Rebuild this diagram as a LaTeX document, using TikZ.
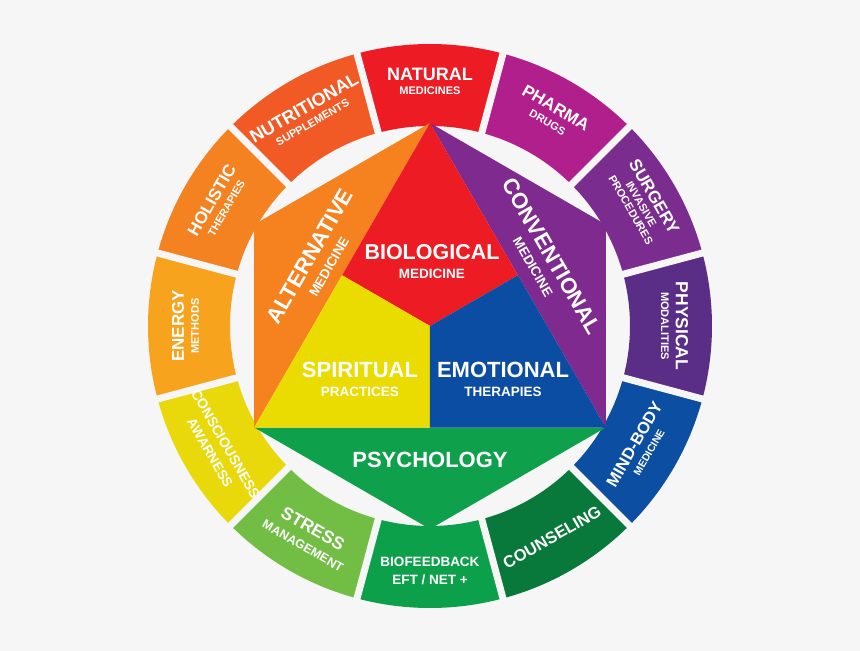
\documentclass[tikz,border=0pt]{standalone}
\usepackage{fontspec}
\setmainfont{Liberation Sans}
\usetikzlibrary{calc}
\definecolor{bgc}{HTML}{F6F6F6}
\definecolor{cNat}{HTML}{ED1C24}
\definecolor{cPha}{HTML}{B01F8C}
\definecolor{cSur}{HTML}{7B2C8F}
\definecolor{cPhy}{HTML}{5A2D87}
\definecolor{cMin}{HTML}{0B4EA2}
\definecolor{cCou}{HTML}{08793A}
\definecolor{cBio}{HTML}{0DA04A}
\definecolor{cStr}{HTML}{72BE44}
\definecolor{cCon}{HTML}{E9D90A}
\definecolor{cEne}{HTML}{F7A31E}
\definecolor{cHol}{HTML}{F58220}
\definecolor{cNut}{HTML}{F15A24}
\definecolor{cAlt}{HTML}{F5821F}
\definecolor{cBiol}{HTML}{ED1C24}
\definecolor{cConv}{HTML}{7E2A8E}
\definecolor{cSpi}{HTML}{EADC00}
\definecolor{cEmo}{HTML}{0B4DA2}
\definecolor{cPsy}{HTML}{0EA04A}
\tikzset{
  lab/.style={text=white, inner sep=0pt, anchor=center},
  gap/.style={bgc, line width=7pt}
}
\newcommand\fsz[1]{\fontsize{#1}{#1}\selectfont\bfseries}
\newcommand\shtext[4]{%
  \node[lab, font=\fsz{#2}] (#1) at #3 {#4};}
\begin{document}
\begin{tikzpicture}[x=1pt,y=1pt]
\fill[bgc] (-430,-325) rectangle (430,326);
\useasboundingbox (-430,-325) rectangle (430,326);
% ring segments
\foreach \a/\c in {90/cNat,60/cPha,30/cSur,0/cPhy,-30/cMin,-60/cCou,-90/cBio,-120/cStr,-150/cCon,180/cEne,150/cHol,120/cNut}{
  \fill[\c] (\a-15:200) arc[start angle=\a-15, end angle=\a+15, radius=200pt]
    -- (\a+15:282) arc[start angle=\a+15, end angle=\a-15, radius=282pt] -- cycle;
}
\foreach \b in {15,45,...,345}{
  \draw[gap] (\b:195) -- (\b:290);
}
% hexagon
\coordinate (A) at (90:203);
\coordinate (B) at (150:203);
\coordinate (C) at (210:203);
\coordinate (D) at (270:203);
\coordinate (E) at (330:203);
\coordinate (F) at (30:203);
\coordinate (O) at (0,0);
\coordinate (mAC) at ($(A)!0.5!(C)$);
\coordinate (mAE) at ($(A)!0.5!(E)$);
\coordinate (mCE) at ($(C)!0.5!(E)$);
\fill[cAlt] (A) -- (B) -- (C) -- cycle;
\fill[cConv] (A) -- (F) -- (E) -- cycle;
\fill[cPsy] (C) -- (D) -- (E) -- cycle;
\fill[cBiol] (A) -- (mAC) -- (O) -- (mAE) -- cycle;
\fill[cSpi] (mAC) -- (C) -- (mCE) -- (O) -- cycle;
\fill[cEmo] (mAE) -- (O) -- (mCE) -- (E) -- cycle;
% center labels
\shtext{biol}{21.5}{(2,74)}{BIOLOGICAL}
\shtext{biolb}{13.5}{(2,52)}{MEDICINE}
\shtext{spi}{22}{(-70,-44)}{SPIRITUAL}
\shtext{spib}{13.5}{(-70,-66)}{PRACTICES}
\shtext{emo}{22}{(73,-44)}{EMOTIONAL}
\shtext{emob}{13.5}{(73,-66)}{THERAPIES}
\shtext{psy}{22}{(0,-134)}{PSYCHOLOGY}
\begin{scope}[shift={(-120,70)}, rotate=60, transform shape]
  \shtext{alt}{22}{(0,0)}{ALTERNATIVE}
  \shtext{altb}{13.5}{(0,-22)}{MEDICINE}
\end{scope}
\begin{scope}[shift={(122,70)}, rotate=-60, transform shape]
  \shtext{conv}{22}{(0,0)}{CONVENTIONAL}
  \shtext{convb}{13.5}{(0,-22)}{MEDICINE}
\end{scope}
% ring labels
\begin{scope}[shift={(90:244)}, rotate=0, transform shape]
  \shtext{nat}{18}{(0,8)}{NATURAL}
  \shtext{natb}{11}{(0,-9)}{MEDICINES}
\end{scope}
\begin{scope}[shift={(60:244)}, rotate=-30, transform shape]
  \shtext{pha}{17}{(0,8)}{PHARMA}
  \shtext{phab}{11}{(0,-9)}{DRUGS}
\end{scope}
\begin{scope}[shift={(30:244)}, rotate=-60, transform shape]
  \shtext{sur}{17}{(0,15)}{SURGERY}
  \shtext{surb}{11}{(0,0)}{INVASIVE}
  \shtext{surc}{11}{(0,-12)}{PROCEDURES}
\end{scope}
\begin{scope}[shift={(0:244)}, rotate=-90, transform shape]
  \shtext{phy}{17.5}{(0,8)}{PHYSICAL}
  \shtext{phyb}{11}{(0,-9)}{MODALITIES}
\end{scope}
\begin{scope}[shift={(-30:244)}, rotate=60, transform shape]
  \shtext{min}{16.5}{(0,8)}{MIND-BODY}
  \shtext{minb}{10.5}{(0,-9)}{MEDICINE}
\end{scope}
\begin{scope}[shift={(-60:244)}, rotate=30, transform shape]
  \shtext{cou}{16.5}{(0,0)}{COUNSELING}
\end{scope}
\begin{scope}[shift={(-90:244)}, rotate=0, transform shape]
  \shtext{bio}{13.5}{(0,8)}{BIOFEEDBACK}
  \shtext{biob}{13.5}{(0,-10)}{EFT / NET +}
\end{scope}
\begin{scope}[shift={(-120:244)}, rotate=-30, transform shape]
  \shtext{str}{17.5}{(0,10)}{STRESS}
  \shtext{strb}{12.5}{(0,-10)}{MANAGEMENT}
\end{scope}
\begin{scope}[shift={(-150:244)}, rotate=-60, transform shape]
  \shtext{con}{14}{(0,8)}{CONSCIOUSNESS}
  \shtext{conb}{13.5}{(0,-10)}{AWARNESS}
\end{scope}
\begin{scope}[shift={(180:244)}, rotate=90, transform shape]
  \shtext{ene}{17}{(0,8)}{ENERGY}
  \shtext{eneb}{11}{(0,-9)}{METHODS}
\end{scope}
\begin{scope}[shift={(150:244)}, rotate=60, transform shape]
  \shtext{hol}{17}{(0,8)}{HOLISTIC}
  \shtext{holb}{11}{(0,-9)}{THERAPIES}
\end{scope}
\begin{scope}[shift={(120:244)}, rotate=30, transform shape]
  \shtext{nut}{18}{(0,8)}{NUTRITIONAL}
  \shtext{nutb}{11}{(0,-9)}{SUPPLEMENTS}
\end{scope}
\end{tikzpicture}
\end{document}
